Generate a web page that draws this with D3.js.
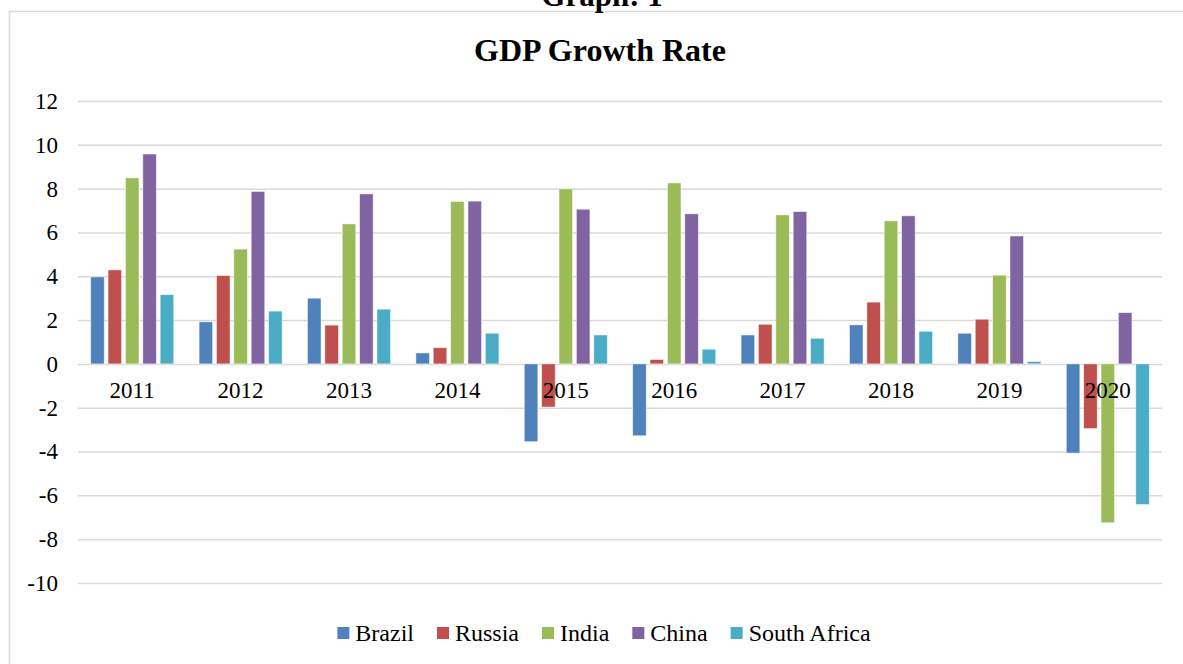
<!DOCTYPE html>
<html>
<head>
<meta charset="utf-8">
<script src="https://cdn.jsdelivr.net/npm/d3@7"></script>
<style>
  html, body { margin: 0; padding: 0; background: #fff; }
  svg { display: block; font-family: "Liberation Serif", "Times New Roman", serif; }
</style>
</head>
<body>
<svg id="chart" width="1183" height="664"></svg>
<script>
// data
const years = ["2011", "2012", "2013", "2014", "2015", "2016", "2017", "2018", "2019", "2020"];
const countries = ["Brazil", "Russia", "India", "China", "South Africa"];
const brazil = [3.97, 1.92, 3.0, 0.5, -3.55, -3.28, 1.32, 1.78, 1.4, -4.07];
const russia = [4.29, 4.03, 1.77, 0.74, -1.97, 0.2, 1.81, 2.82, 2.04, -2.95];
const india = [8.49, 5.24, 6.39, 7.41, 7.99, 8.26, 6.8, 6.53, 4.05, -7.25];
const china = [9.58, 7.87, 7.76, 7.43, 7.06, 6.85, 6.95, 6.76, 5.84, 2.34];
const southAfrica = [3.16, 2.41, 2.5, 1.4, 1.32, 0.67, 1.17, 1.49, 0.11, -6.42];
const yTicks = [-10, -8, -6, -4, -2, 0, 2, 4, 6, 8, 10, 12];
const colors = ["#4f81bd", "#c0504d", "#9bbb59", "#8064a2", "#4bacc6"];

const series = [brazil, russia, india, china, southAfrica];

const svg = d3.select("#chart");
const plotLeft = 78, plotRight = 1162, plotTop = 101, plotBottom = 583;

// outer frame
svg.append("rect")
  .attr("x", 9.5).attr("y", 11.5)
  .attr("width", 1180).attr("height", 670)
  .attr("fill", "none")
  .attr("stroke", "#d9d9d9")
  .attr("stroke-width", 1.5);

// heading of the page, cut by the top edge as in the source
svg.append("text")
  .attr("x", 602).attr("y", 6)
  .attr("text-anchor", "middle")
  .style("font-size", "31px")
  .style("font-weight", "bold")
  .text("Graph: 1");

svg.append("text")
  .attr("x", 600).attr("y", 61)
  .attr("text-anchor", "middle")
  .style("font-size", "32px")
  .style("font-weight", "bold")
  .text("GDP Growth Rate");

const x0 = d3.scaleBand()
  .domain(years)
  .range([plotLeft, plotRight])
  .paddingInner(0.234)
  .paddingOuter(0.117);

const x1 = d3.scaleBand()
  .domain(countries)
  .range([0, x0.bandwidth()])
  .paddingInner(0.22);

const y = d3.scaleLinear()
  .domain([-10, 12])
  .range([plotBottom, plotTop]);

// gridlines + y labels
const yAxis = svg.append("g")
  .attr("transform", `translate(${plotLeft},0)`)
  .call(d3.axisLeft(y)
    .tickValues(yTicks)
    .tickFormat(d => String(d))
    .tickSize(-(plotRight - plotLeft))
    .tickPadding(20));
yAxis.select(".domain").remove();
yAxis.selectAll("line").attr("stroke", "#d9d9d9").attr("stroke-width", 1.5);
yAxis.selectAll("text")
  .style("font-size", "23px")
  .style("font-family", "Liberation Serif")
  .attr("fill", "#000");

// bars
const groups = svg.append("g")
  .selectAll("g")
  .data(years)
  .join("g")
  .attr("transform", d => `translate(${x0(d)},0)`);

groups.selectAll("rect")
  .data((yr, i) => countries.map((c, k) => ({ c, k, v: series[k][i] })))
  .join("rect")
  .attr("x", d => x1(d.c))
  .attr("width", x1.bandwidth())
  .attr("y", d => y(Math.max(0, d.v)))
  .attr("height", d => Math.abs(y(d.v) - y(0)))
  .attr("fill", d => colors[d.k])
  .attr("stroke", "#fff")
  .attr("stroke-opacity", 0.6)
  .attr("stroke-width", 0.8);

// category labels sit on top of the bars
const xAxis = svg.append("g")
  .attr("transform", `translate(0,${y(0)})`)
  .call(d3.axisBottom(x0).tickSize(0).tickPadding(18));
xAxis.select(".domain").remove();
xAxis.selectAll("text")
  .style("font-size", "23px")
  .style("font-family", "Liberation Serif")
  .attr("fill", "#000");

// legend
const legend = svg.append("g");
let lx = 0;
countries.forEach((c, k) => {
  const item = legend.append("g").attr("transform", `translate(${lx},0)`);
  item.append("rect")
    .attr("x", 0).attr("y", -14)
    .attr("width", 12).attr("height", 12)
    .attr("fill", colors[k]);
  const t = item.append("text")
    .attr("x", 18).attr("y", 0)
    .style("font-size", "24px")
    .text(c);
  lx += 18 + t.node().getComputedTextLength() + 23;
});
const legendWidth = lx - 23;
legend.attr("transform", `translate(${604 - legendWidth / 2},641)`);
</script>
</body>
</html>
